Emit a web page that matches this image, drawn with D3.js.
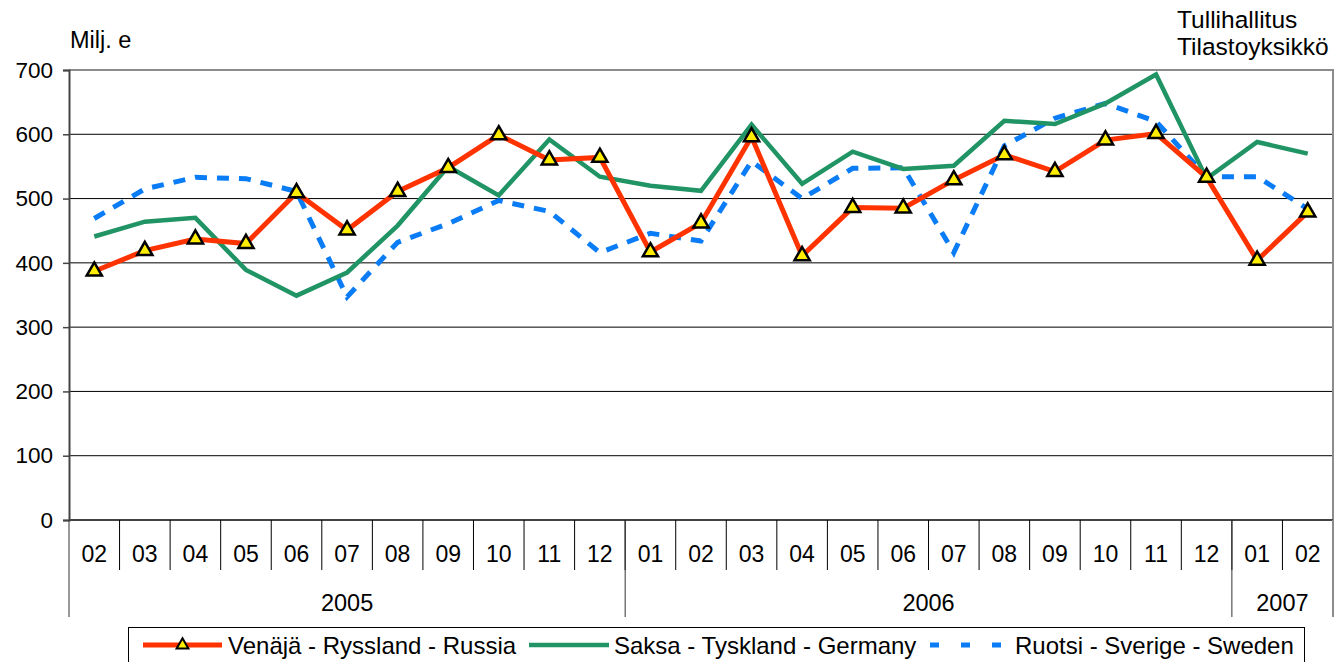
<!DOCTYPE html>
<html>
    <head>
        <meta charset="utf-8">
        <style>
            body { margin: 0; background: #fff; }
            svg text { font-family: "Liberation Sans", Arial, sans-serif; fill: #000; }
        </style>
    </head>
    <body>
        <svg id="chart" width="1340" height="662"></svg>
        <script src="https://d3js.org/d3.v7.min.js"></script>
        <script>
            // kuukaudet (vuosi-kk)
            const categories = [
                '2005-02', '2005-03', '2005-04', '2005-05', '2005-06', '2005-07', '2005-08', '2005-09', '2005-10', '2005-11', '2005-12',
                '2006-01', '2006-02', '2006-03', '2006-04', '2006-05', '2006-06', '2006-07', '2006-08', '2006-09', '2006-10', '2006-11', '2006-12',
                '2007-01', '2007-02'
            ];
            const russia = [387, 419, 437, 430, 509, 451, 511, 548, 599, 560, 564, 417, 462, 596, 411, 486, 485, 529, 568, 542, 591, 601, 533, 404, 479];
            const germany = [441, 464, 470, 389, 349, 385, 458, 550, 505, 592, 534, 520, 512, 615, 523, 573, 546, 551, 621, 616, 648, 693, 531, 588, 570];
            const sweden = [469, 515, 533, 531, 511, 347, 432, 461, 497, 480, 416, 446, 434, 558, 500, 547, 548, 416, 582, 625, 648, 620, 534, 534, 484];
            const yTicks = [0, 100, 200, 300, 400, 500, 600, 700];

            const series = [
                {name: 'Venäjä - Ryssland - Russia', values: russia, color: '#ff3300', width: 5, dash: null, marker: true},
                {name: 'Saksa - Tyskland - Germany', values: germany, color: '#209464', width: 4.5, dash: null, marker: false},
                {name: 'Ruotsi - Sverige - Sweden', values: sweden, color: '#0a7cf5', width: 5, dash: '12,10', marker: false}
            ];

            const svg = d3.select('#chart');
            const plot = {left: 69, right: 1333, top: 70, bottom: 520};

            const x = d3.scaleBand().domain(categories).range([plot.left, plot.right]).padding(0);
            const y = d3.scaleLinear().domain([0, 700]).range([plot.bottom, plot.top]);
            const cx = d => x(d) + x.bandwidth() / 2;

            // ruudukko
            svg.append('g')
               .selectAll('line')
               .data(yTicks.filter(t => t > 0 && t < 700))
               .join('line')
               .attr('x1', plot.left).attr('x2', plot.right)
               .attr('y1', d => y(d)).attr('y2', d => y(d))
               .attr('stroke', '#000').attr('stroke-width', 1);

            // kehys ylä + oikea
            svg.append('path')
               .attr('d', `M${plot.left},${y(700)}H${plot.right}V${plot.bottom}`)
               .attr('fill', 'none').attr('stroke', '#8c8c8c').attr('stroke-width', 2);

            // y-akseli
            const yAxis = d3.axisLeft(y).tickValues(yTicks).tickSize(6).tickPadding(10);
            const gy = svg.append('g').attr('transform', `translate(${plot.left},0)`).call(yAxis);
            gy.select('.domain').attr('stroke', '#444').attr('stroke-width', 2);
            gy.selectAll('.tick line').attr('stroke', '#444').attr('stroke-width', 1.5);
            gy.selectAll('text').attr('font-size', 22.5).attr('font-family', '"Liberation Sans", Arial, sans-serif');

            // x-akseli: kuukaudet
            svg.append('line')
               .attr('x1', plot.left).attr('x2', plot.right).attr('y1', plot.bottom).attr('y2', plot.bottom)
               .attr('stroke', '#444').attr('stroke-width', 2);

            const gx = svg.append('g');
            gx.selectAll('line')
              .data(categories.slice(1))
              .join('line')
              .attr('x1', d => x(d)).attr('x2', d => x(d))
              .attr('y1', plot.bottom).attr('y2', 570)
              .attr('stroke', '#000').attr('stroke-width', 1);
            gx.selectAll('text')
              .data(categories)
              .join('text')
              .attr('x', cx)
              .attr('y', 562)
              .attr('text-anchor', 'middle')
              .attr('font-size', 23)
              .text(d => d.split('-')[1]);

            // vuodet
            const years = d3.groups(categories, d => d.split('-')[0]);
            const gYear = svg.append('g');
            years.forEach(([yr, cats]) => {
                const x0 = x(cats[0]);
                const x1 = x(cats[cats.length - 1]) + x.bandwidth();
                gYear.append('line')
                     .attr('x1', x0).attr('x2', x0).attr('y1', plot.bottom).attr('y2', 617)
                     .attr('stroke', '#333').attr('stroke-width', 1);
                gYear.append('text')
                     .attr('x', (x0 + x1) / 2).attr('y', 611)
                     .attr('text-anchor', 'middle').attr('font-size', 23.5)
                     .text(yr);
            });
            gYear.append('line')
                 .attr('x1', plot.right).attr('x2', plot.right).attr('y1', plot.bottom).attr('y2', 617)
                 .attr('stroke', '#8c8c8c').attr('stroke-width', 2);

            // viivat
            const line = d3.line().x((d, i) => cx(categories[i])).y(d => y(d));
            const order = [series[2], series[1], series[0]];
            order.forEach(s => {
                svg.append('path')
                   .datum(s.values)
                   .attr('d', line)
                   .attr('fill', 'none')
                   .attr('stroke', s.color)
                   .attr('stroke-width', s.width)
                   .attr('stroke-dasharray', s.dash)
                   .attr('stroke-linejoin', 'miter');
            });

            const tri = d3.symbol(d3.symbolTriangle, 100);
            svg.append('g')
               .selectAll('path')
               .data(russia)
               .join('path')
               .attr('d', tri)
               .attr('transform', (d, i) => `translate(${cx(categories[i])},${y(d)})`)
               .attr('fill', '#ffee00')
               .attr('stroke', '#000')
               .attr('stroke-width', 2.5);

            // tekstit
            svg.append('text').attr('x', 70).attr('y', 48).attr('font-size', 23.5).text('Milj. e');
            svg.append('text').attr('x', 1177).attr('y', 28).attr('font-size', 24.5).text('Tullihallitus');
            svg.append('text').attr('x', 1177).attr('y', 55).attr('font-size', 24.5).text('Tilastoyksikkö');

            // selite
            const lg = svg.append('g');
            lg.append('rect')
              .attr('x', 128.5).attr('y', 627.5).attr('width', 1176).attr('height', 40)
              .attr('fill', '#fff').attr('stroke', '#000').attr('stroke-width', 1);
            const legendX = [143, 529, 930];
            const legendW = [79, 80, 71];
            const legendText = [228, 614, 1015];
            series.forEach((s, i) => {
                const lx = legendX[i], ly = 645;
                lg.append('line')
                  .attr('x1', lx).attr('x2', lx + legendW[i]).attr('y1', ly).attr('y2', ly)
                  .attr('stroke', s.color).attr('stroke-width', s.width)
                  .attr('stroke-dasharray', s.dash ? '9,22' : null);
                if (s.marker) {
                    lg.append('path')
                      .attr('d', d3.symbol(d3.symbolTriangle, 60))
                      .attr('transform', `translate(${lx + legendW[i] / 2},${ly})`)
                      .attr('fill', '#ffee00').attr('stroke', '#000').attr('stroke-width', 2);
                }
                lg.append('text')
                  .attr('x', legendText[i]).attr('y', ly + 9)
                  .attr('font-size', 24)
                  .text(s.name);
            });
        </script>
    </body>
</html>
